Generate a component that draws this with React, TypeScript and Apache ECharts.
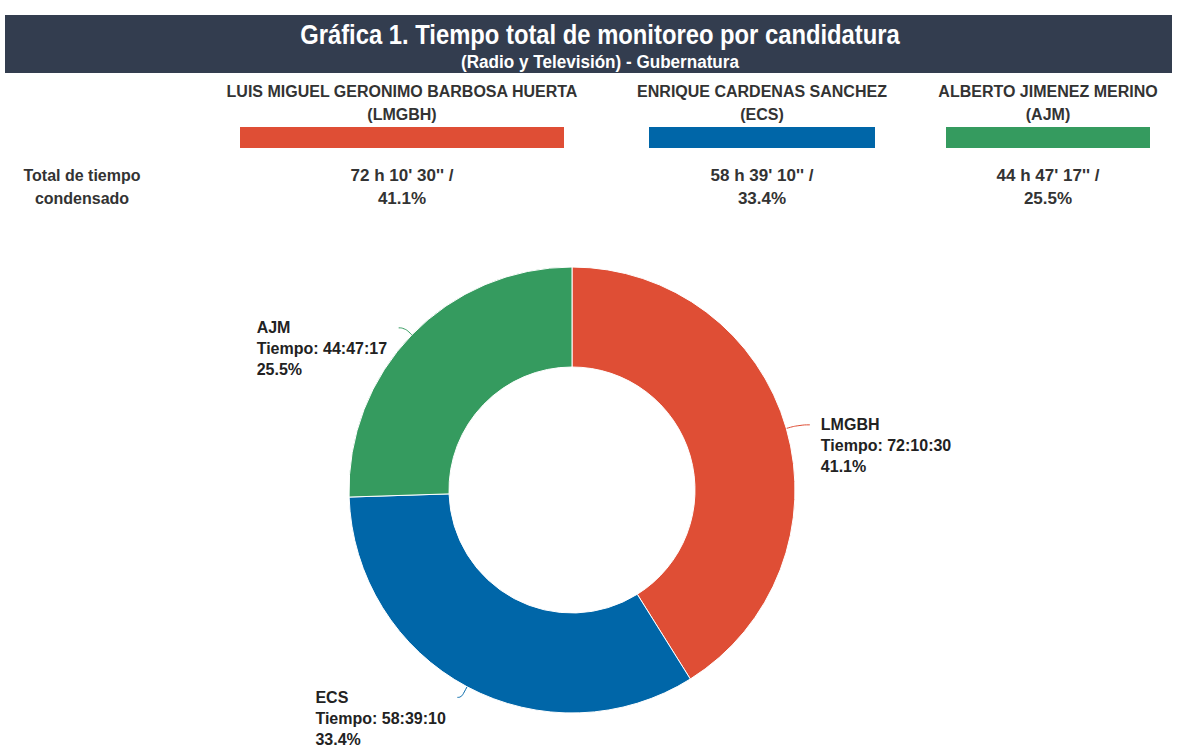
import React, { useEffect, useRef } from "react";
import * as echarts from "echarts";

const titleText = "Gráfica 1. Tiempo total de monitoreo por candidatura";
const subtitleText = "(Radio y Televisión) - Gubernatura";
const fullNames = ["LUIS MIGUEL GERONIMO BARBOSA HUERTA", "ENRIQUE CARDENAS SANCHEZ", "ALBERTO JIMENEZ MERINO"];
const abbrevs = ["LMGBH", "ECS", "AJM"];
const times = ["72:10:30", "58:39:10", "44:47:17"];
const timeTexts = ["72 h 10' 30'' /", "58 h 39' 10'' /", "44 h 47' 17'' /"];
const percentTexts = ["41.1%", "33.4%", "25.5%"];
const colors = ["#df4e35", "#0066a8", "#359b5f"];
const rowLabel = ["Total de tiempo", "condensado"];

const toSeconds = (t: string) => {
  const [h, m, s] = t.split(":").map(Number);
  return h * 3600 + m * 60 + s;
};

const FONT = "'Liberation Sans', Arial, sans-serif";

// column layout of header legend
const colCenters = [402, 762, 1048];
const barX = [240, 649, 946];
const barW = [324, 226, 204];
// label line lengths per slice
const lineLen1 = [13, 12, 10];
const lineLen2 = [11, 4, 6];

export default function App() {
  const ref = useRef<HTMLDivElement>(null);
  useEffect(() => {
    document.body.style.margin = "0";
    const chart = echarts.init(ref.current!, undefined, { renderer: "svg" });
    const graphics: any[] = [
      { type: "rect", shape: { x: 5, y: 15, width: 1167, height: 58 }, style: { fill: "#333d4f" } },
      {
        type: "text", x: 600, y: 34, scaleX: 0.85,
        style: { text: titleText, fill: "#ffffff", font: `bold 28px ${FONT}`, align: "center", verticalAlign: "middle" },
      },
      {
        type: "text", x: 600, y: 62, scaleX: 0.9,
        style: { text: subtitleText, fill: "#ffffff", font: `bold 19px ${FONT}`, align: "center", verticalAlign: "middle" },
      },
      {
        type: "text", x: 82, y: 175,
        style: { text: rowLabel[0], fill: "#333333", font: `bold 16px ${FONT}`, align: "center", verticalAlign: "middle" },
      },
      {
        type: "text", x: 82, y: 198,
        style: { text: rowLabel[1], fill: "#333333", font: `bold 16px ${FONT}`, align: "center", verticalAlign: "middle" },
      },
    ];
    fullNames.forEach((n, i) => {
      graphics.push(
        { type: "text", x: colCenters[i], y: 91, style: { text: n, fill: "#333333", font: `bold 16px ${FONT}`, align: "center", verticalAlign: "middle" } },
        { type: "text", x: colCenters[i], y: 114, style: { text: `(${abbrevs[i]})`, fill: "#333333", font: `bold 16px ${FONT}`, align: "center", verticalAlign: "middle" } },
        { type: "rect", shape: { x: barX[i], y: 127, width: barW[i], height: 21 }, style: { fill: colors[i] } },
        { type: "text", x: colCenters[i], y: 175, style: { text: timeTexts[i], fill: "#333333", font: `bold 17px ${FONT}`, align: "center", verticalAlign: "middle" } },
        { type: "text", x: colCenters[i], y: 198, style: { text: percentTexts[i], fill: "#333333", font: `bold 17px ${FONT}`, align: "center", verticalAlign: "middle" } },
      );
    });

    chart.setOption({
      animation: false,
      graphic: graphics,
      series: [
        {
          type: "pie",
          center: [572, 490],
          radius: [123, 223],
          startAngle: 90,
          clockwise: true,
          avoidLabelOverlap: false,
          itemStyle: { borderColor: "#ffffff", borderWidth: 1 },
          label: {
            show: true,
            position: "outside",
            distanceToLabelLine: 11,
            padding: [42, 0, 0, 0],
            formatter: (p: any) =>
              `{a|${p.name}}\n{a|Tiempo: ${times[p.dataIndex]}}\n{a|${p.percent.toFixed(1)}%}`,
            rich: {
              a: { width: 131, align: "left", fontSize: 16, fontWeight: "bold", lineHeight: 21, color: "#222222", fontFamily: FONT },
            },
          },
          labelLine: { show: true, length: 13, length2: 11, smooth: 0.5, lineStyle: { width: 1 } },
          data: abbrevs.map((a, i) => ({
            name: a,
            value: toSeconds(times[i]),
            itemStyle: { color: colors[i] },
            labelLine: { length: lineLen1[i], length2: lineLen2[i], lineStyle: { color: colors[i] } },
          })),
        },
      ],
    });
    return () => chart.dispose();
  }, []);
  return <div ref={ref} style={{ width: 1177, height: 748 }} />;
}
